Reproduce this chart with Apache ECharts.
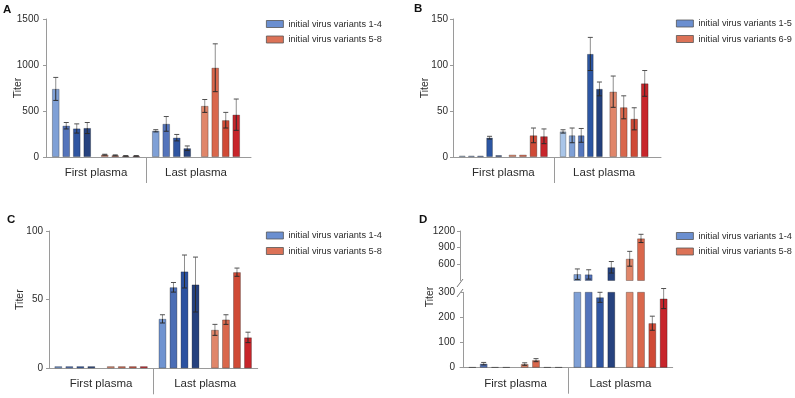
<!DOCTYPE html>
<html>
<head>
<meta charset="utf-8">
<script src="https://cdn.jsdelivr.net/npm/echarts@6/dist/echarts.min.js"></script>
<style>
  html, body { margin: 0; padding: 0; background: #fff; }
  #chart { width: 795px; height: 398px; }
</style>
</head>
<body>
<div id="chart"></div>
<script>
const FONT = 'Liberation Sans, Arial, sans-serif';
const TEXT = '#2b2b2b';
const AXIS = '#9a9a9a';

const groups = ['First plasma', 'Last plasma'];

// panel A (variants 1-4 blue, 5-8 orange)
const aNames = ['initial virus variants 1-4', 'initial virus variants 5-8'];
const aFirst = [740, 340, 310, 315, 25, 18, 12, 12];
const aFirstErr = [125, 35, 50, 60, 5, 5, 3, 3];
const aLast = [285, 360, 210, 95, 555, 970, 400, 460];
const aLastErr = [12, 80, 35, 25, 70, 260, 85, 170];
const aTicks = [0, 500, 1000, 1500];

// panel B (variants 1-5 blue, 6-9 orange)
const bNames = ['initial virus variants 1-5', 'initial virus variants 6-9'];
const bFirst = [1.5, 1.5, 1.5, 21, 2, 2.5, 2.5, 23.5, 22.5];
const bFirstErr = [0, 0, 0, 1.5, 0, 0, 0, 8, 8];
const bLast = [27.8, 23.5, 23.5, 112, 74, 71, 54, 41.5, 80];
const bLastErr = [1.8, 8, 7.5, 18, 7.5, 17, 12.5, 12, 14];
const bTicks = [0, 50, 100, 150];

// panel C
const cNames = ['initial virus variants 1-4', 'initial virus variants 5-8'];
const cFirst = [1.5, 1.5, 1.5, 1.5, 1.5, 1.5, 1.5, 1.5];
const cFirstErr = [0, 0, 0, 0, 0, 0, 0, 0];
const cLast = [36, 59, 70.5, 61, 28, 35.5, 70, 22.5];
const cLastErr = [3, 3.5, 12, 20, 4, 3.5, 3, 3.8];
const cTicks = [0, 50, 100];

// panel D (broken axis)
const dNames = ['initial virus variants 1-4', 'initial virus variants 5-8'];
const dFirst = [2.5, 16, 2.5, 2.5, 14.5, 30, 2.5, 2.5];
const dFirstErr = [0, 5, 0, 0, 5, 6, 0, 0];
const dLast = [415, 410, 280, 540, 695, 1065, 177, 275];
const dLastErr = [95, 85, 20, 105, 135, 75, 28, 40];
const dTicksLow = [0, 100, 200, 300];
const dTicksHigh = [300, 600, 900, 1200];

const oranges = ['#e0866a', '#d9674c', '#cf4a36', '#c7252b'];
const colorsA = ['#7fa0d6', '#5474bb', '#2f55a1', '#26427f'].concat(oranges);
const colorsB = ['#a9c5e8', '#7fa0d6', '#5677bd', '#2c56a3', '#23407c'].concat(oranges);
const colorsC = ['#6f93d0', '#4a6db5', '#2c52a0', '#25417e'].concat(oranges);
const legendColors = ['#6b8fd0', '#dc7257'];

const option = {
  animation: false,
  textStyle: { fontFamily: FONT },
  title: [],
  legend: [],
  grid: [],
  xAxis: [],
  yAxis: [],
  series: [],
  graphic: []
};

// same column layout as echarts uses for bars sharing a category
const barOffsets = (widths, gapPct) => {
  let sum = 0;
  widths.forEach((w) => { sum += w * (1 + gapPct); });
  sum -= widths[widths.length - 1] * gapPct;
  let off = -sum / 2;
  return widths.map((w) => {
    const c = off + w / 2;
    off += w * (1 + gapPct);
    return c;
  });
};

const errorBars = (offsets) => function (params, api) {
  const cat = api.value(0);
  const slot = api.value(1);
  const mean = api.value(2);
  const err = api.value(3);
  const mid = api.coord([cat, mean]);
  const x = mid[0] + offsets[slot];
  const yTop = api.coord([cat, mean + err])[1];
  const yBot = api.coord([cat, Math.max(mean - err, 0)])[1];
  const half = 2.5;
  return {
    type: 'group',
    children: [
      { type: 'line', shape: { x1: x, y1: yTop, x2: x, y2: mid[1] }, style: { stroke: '#8e8e8e', lineWidth: 1 } },
      { type: 'line', shape: { x1: x, y1: mid[1], x2: x, y2: yBot }, style: { stroke: '#2b2b2b', lineWidth: 1 } },
      { type: 'line', shape: { x1: x - half, y1: yTop, x2: x + half, y2: yTop }, style: { stroke: '#505050', lineWidth: 1 } },
      { type: 'line', shape: { x1: x - half, y1: yBot, x2: x + half, y2: yBot }, style: { stroke: '#2b2b2b', lineWidth: 1 } }
    ]
  };
};

const addPanel = (p) => {
  const o = option;
  const segs = p.segments;
  const lastSeg = segs[segs.length - 1];

  o.title.push({
    text: p.letter, left: p.letterX, top: p.letterY, padding: 0,
    textStyle: { fontSize: 11.5, fontWeight: 'bold', color: '#111' }
  });

  o.legend.push({
    orient: 'vertical', left: p.legendLeft, top: p.legendTop, padding: 0,
    itemWidth: 17, itemHeight: 7, itemGap: 6.5, icon: 'rect', selectedMode: false,
    textStyle: { fontSize: 9.2, color: TEXT },
    data: p.names.map((n, k) => ({
      name: n, itemStyle: { color: legendColors[k], borderColor: '#555', borderWidth: 0.8 }
    }))
  });

  // frame grid only carries the long baseline
  const fg = o.grid.length;
  o.grid.push({
    left: p.axisLeft, top: lastSeg.top,
    width: p.axisRight - p.axisLeft, height: lastSeg.bottom - lastSeg.top,
    outerBoundsMode: 'none'
  });
  o.xAxis.push({
    gridIndex: fg, type: 'value', min: 0, max: 1, position: 'bottom',
    axisLine: { onZero: false, lineStyle: { color: AXIS } },
    axisTick: { show: false }, axisLabel: { show: false }, splitLine: { show: false }
  });
  o.yAxis.push({ gridIndex: fg, type: 'value', show: false });

  const nAll = p.first.length;
  const widths = [];
  for (let i = 0; i < p.nBlue; i++) widths.push(p.blueW);
  widths.push(p.spacerW);
  for (let i = p.nBlue; i < nAll; i++) widths.push(p.orangeW);
  const offsets = barOffsets(widths, p.gapPct);
  const slotOf = (i) => (i < p.nBlue ? i : i + 1);
  const gapStr = (p.gapPct * 100) + '%';

  segs.forEach((s, k) => {
    const isLast = k === segs.length - 1;
    const lo = s.ticks[0];
    const hi = s.ticks[s.ticks.length - 1];
    const g = o.grid.length;
    o.grid.push({
      left: p.barLeft, top: s.top, width: p.barWidth, height: s.bottom - s.top,
      outerBoundsMode: 'none'
    });
    const xi = o.xAxis.length;
    o.xAxis.push({
      gridIndex: g, type: 'category', data: groups, position: 'bottom',
      axisLine: { show: false }, axisTick: { show: false },
      axisLabel: { show: isLast, fontSize: 11.5, color: TEXT, margin: 10 }
    });
    if (isLast) {
      // separator between the two plasma groups
      o.xAxis.push({
        gridIndex: g, type: 'value', min: 0, max: 2, position: 'bottom',
        axisLine: { show: false, onZero: false }, axisLabel: { show: false }, splitLine: { show: false },
        axisTick: { show: true, customValues: [1], length: 26, lineStyle: { color: AXIS } }
      });
    }
    const yi = o.yAxis.length;
    const yAx = {
      gridIndex: g, type: 'value', min: lo, max: hi, interval: s.ticks[1] - s.ticks[0],
      offset: p.barLeft - p.axisLeft,
      axisLine: { show: true, lineStyle: { color: AXIS } },
      axisTick: { show: true, length: 3, lineStyle: { color: AXIS } },
      axisLabel: {
        fontSize: 10, color: TEXT, margin: 5, showMinLabel: !s.hideMin,
        formatter: (v) => String(v)
      },
      splitLine: { show: false }
    };
    if (s.hideMin) yAx.axisTick.customValues = s.ticks.slice(1);
    if (p.titerOnAxis) {
      yAx.name = 'Titer';
      yAx.nameLocation = 'middle';
      yAx.nameRotate = 90;
      yAx.nameGap = p.nameGap;
      yAx.nameMoveOverlap = false;
      yAx.nameTextStyle = { fontSize: 10.5, color: TEXT };
    }
    o.yAxis.push(yAx);

    const vis = (v) => (v > lo ? v : '-');
    widths.forEach((w, slot) => {
      if (slot === p.nBlue) {
        o.series.push({
          type: 'bar', name: 'spacer', xAxisIndex: xi, yAxisIndex: yi,
          data: ['-', '-'], barWidth: w, barGap: gapStr
        });
        return;
      }
      const i = slot < p.nBlue ? slot : slot - 1;
      o.series.push({
        type: 'bar', name: i < p.nBlue ? p.names[0] : p.names[1],
        xAxisIndex: xi, yAxisIndex: yi,
        data: [vis(p.first[i]), vis(p.last[i])],
        barWidth: w, barGap: gapStr,
        itemStyle: { color: p.colors[i], borderColor: 'rgba(0,0,0,0.35)', borderWidth: 0.8 },
        silent: true
      });
    });

    const errData = [];
    [p.first, p.last].forEach((arr, cat) => {
      const errs = cat === 0 ? p.firstErr : p.lastErr;
      arr.forEach((v, i) => {
        if (errs[i] > 0 && v > lo && v <= hi) errData.push([cat, slotOf(i), v, errs[i]]);
      });
    });
    o.series.push({
      type: 'custom', xAxisIndex: xi, yAxisIndex: yi, silent: true, z: 5,
      encode: { x: 0, y: 2 }, data: errData, renderItem: errorBars(offsets)
    });
  });
};

addPanel({
  letter: 'A', letterX: 3, letterY: 4, names: aNames, nBlue: 4, colors: colorsA,
  first: aFirst, firstErr: aFirstErr, last: aLast, lastErr: aLastErr,
  axisLeft: 44, axisRight: 251, barLeft: 46, barWidth: 200,
  segments: [{ top: 19, bottom: 157, ticks: aTicks }],
  blueW: 7.5, orangeW: 7.5, spacerW: 5, gapPct: 0.4,
  legendLeft: 266, legendTop: 19.5, titerOnAxis: true, nameGap: 20
});
addPanel({
  letter: 'B', letterX: 414, letterY: 3, names: bNames, nBlue: 5, colors: colorsB,
  first: bFirst, firstErr: bFirstErr, last: bLast, lastErr: bLastErr,
  axisLeft: 453, axisRight: 661, barLeft: 453, barWidth: 201.5,
  segments: [{ top: 19, bottom: 157, ticks: bTicks }],
  blueW: 6.5, orangeW: 7.5, spacerW: 3, gapPct: 0.4,
  legendLeft: 676, legendTop: 19, titerOnAxis: true, nameGap: 22
});
addPanel({
  letter: 'C', letterX: 7, letterY: 214, names: cNames, nBlue: 4, colors: colorsC,
  first: cFirst, firstErr: cFirstErr, last: cLast, lastErr: cLastErr,
  axisLeft: 48, axisRight: 257.7, barLeft: 49, barWidth: 208.3,
  segments: [{ top: 231, bottom: 368.3, ticks: cTicks }],
  blueW: 7.7, orangeW: 7.7, spacerW: 5.9, gapPct: 0.43,
  legendLeft: 266, legendTop: 231, titerOnAxis: true, nameGap: 22
});
addPanel({
  letter: 'D', letterX: 419, letterY: 214, names: dNames, nBlue: 4, colors: colorsA,
  first: dFirst, firstErr: dFirstErr, last: dLast, lastErr: dLastErr,
  axisLeft: 460, axisRight: 672.7, barLeft: 463, barWidth: 210,
  segments: [
    { top: 231, bottom: 280.5, ticks: dTicksHigh, hideMin: true },
    { top: 292.3, bottom: 367.7, ticks: dTicksLow }
  ],
  blueW: 7.7, orangeW: 7.7, spacerW: 4.8, gapPct: 0.47,
  legendLeft: 676, legendTop: 231.5, titerOnAxis: false
});

// axis break marks and the shared y name of panel D
option.graphic.push(
  { type: 'line', shape: { x1: 457, y1: 287, x2: 463, y2: 279 }, style: { stroke: '#777', lineWidth: 1 } },
  { type: 'line', shape: { x1: 457, y1: 297, x2: 463, y2: 289 }, style: { stroke: '#777', lineWidth: 1 } },
  {
    type: 'text', x: 430, y: 297, rotation: Math.PI / 2,
    style: { text: 'Titer', fontSize: 10.5, fill: TEXT, fontFamily: FONT, align: 'center', verticalAlign: 'middle' }
  }
);

const chart = echarts.init(document.getElementById('chart'));
chart.setOption(option);
</script>
</body>
</html>
